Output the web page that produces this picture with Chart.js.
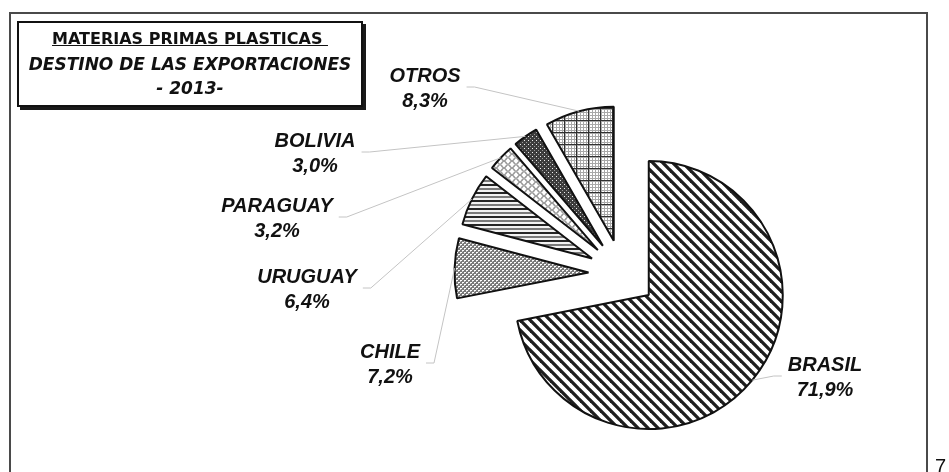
<!DOCTYPE html>
<html>
<head>
<meta charset="utf-8">
<script src="https://cdn.jsdelivr.net/npm/chart.js@4/dist/chart.umd.min.js"></script>
<style>
  html, body { margin:0; padding:0; background:#fff; width:949px; height:472px; overflow:hidden; }
  body { position:relative; }
  #frame { position:absolute; left:9px; top:12px; width:915px; height:520px; border:2px solid #4a4a4a; }
  #chart { position:absolute; left:0; top:0; }
  #tbox { position:absolute; left:17px; top:21px; width:346px; height:86px; box-sizing:border-box;
          border:2px solid #111; box-shadow:3px 3px 0 #1a1a1a; background:#fff; text-align:center;
          font-family:"DejaVu Sans", sans-serif; font-weight:bold; font-size:17px; line-height:24.5px;
          color:#111; padding-top:4px; }
  #tbox .l1 { font-size:16px; text-decoration:underline; white-space:pre; }
  #tbox .it { font-style:italic; }
  #pg { position:absolute; left:935px; top:456px; font:20px/20px "Liberation Sans", sans-serif; color:#111; }
</style>
</head>
<body>
<div id="frame"></div>
<canvas id="chart" width="949" height="472"></canvas>
<div id="tbox">
  <div class="l1">MATERIAS PRIMAS PLASTICAS </div>
  <div class="it">DESTINO DE LAS EXPORTACIONES</div>
  <div class="it">- 2013-</div>
</div>
<div id="pg">7</div>
<script>
// ---- data ----
const categories = ['BRASIL', 'CHILE', 'URUGUAY', 'PARAGUAY', 'BOLIVIA', 'OTROS'];
const shares = [71.9, 7.2, 6.4, 3.2, 3.0, 8.3];

// ---- patterns ----
const canvas = document.getElementById('chart');
const mainCtx = canvas.getContext('2d');
function makePattern(w, h, draw) {
  const t = document.createElement('canvas');
  t.width = w; t.height = h;
  const c = t.getContext('2d');
  draw(c, w, h);
  return mainCtx.createPattern(t, 'repeat');
}
const patBrasil = makePattern(10, 10, (c) => {
  c.fillStyle = '#fff'; c.fillRect(0, 0, 10, 10);
  c.strokeStyle = '#1e1e1e'; c.lineWidth = 3.3;
  for (const k of [-10, 0, 10]) { c.beginPath(); c.moveTo(k - 2, -2); c.lineTo(k + 12, 12); c.stroke(); }
});
const patChile = makePattern(4, 4, (c) => {
  c.fillStyle = '#7a7a7a'; c.fillRect(0, 0, 4, 4);
  c.fillStyle = '#fff'; c.fillRect(0, 0, 2, 1); c.fillRect(2, 2, 2, 1);
  c.fillStyle = '#c8c8c8'; c.fillRect(0, 1, 1, 1); c.fillRect(2, 3, 1, 1);
});
const patUruguay = makePattern(4, 8, (c) => {
  c.fillStyle = '#f2f2f2'; c.fillRect(0, 0, 4, 8);
  c.fillStyle = '#262626'; c.fillRect(0, 0, 4, 2);
  c.fillStyle = '#7a7a7a'; c.fillRect(0, 4, 4, 2);
});
const patParaguay = makePattern(8, 7, (c) => {
  c.fillStyle = '#fff'; c.fillRect(0, 0, 8, 7);
  c.strokeStyle = '#9a9a9a'; c.lineWidth = 1;
  for (const [x, y] of [[0, 3.5], [8, 3.5], [4, 0], [4, 7]]) {
    c.beginPath(); c.arc(x, y, 3.1, 0, Math.PI * 2); c.stroke();
  }
});
const patBolivia = makePattern(4, 4, (c) => {
  c.fillStyle = '#3c3c3c'; c.fillRect(0, 0, 4, 4);
  c.fillStyle = '#f0f0f0'; c.fillRect(0, 0, 1, 1);
  c.fillStyle = '#9a9a9a'; c.fillRect(2, 2, 1, 1);
});
const patOtros = makePattern(12, 12, (c) => {
  c.fillStyle = '#fff'; c.fillRect(0, 0, 12, 12);
  c.fillStyle = '#a8a8a8';
  for (let i = 0; i < 4; i++) { c.fillRect(i * 3 + 1, 0, 1, 12); c.fillRect(0, i * 3 + 1, 12, 1); }
  c.fillStyle = '#303030'; c.fillRect(0, 0, 1, 12); c.fillRect(0, 0, 12, 1);
});
const fills = [patBrasil, patChile, patUruguay, patParaguay, patBolivia, patOtros];

// ---- plugins ----
const explodePlugin = {
  id: 'explode',
  afterDatasetUpdate(chart, args, opts) {
    const meta = chart.getDatasetMeta(args.index);
    meta.data.forEach(arc => {
      const mid = (arc.startAngle + arc.endAngle) / 2;
      arc.x += opts.distance * Math.cos(mid);
      arc.y += opts.distance * Math.sin(mid);
    });
  }
};

const labelPlugin = {
  id: 'sliceLabels',
  afterDatasetsDraw(chart, args, opts) {
    const ctx = chart.ctx;
    const meta = chart.getDatasetMeta(0);
    const values = chart.data.datasets[0].data;
    ctx.save();
    ctx.font = opts.font;
    meta.data.forEach((arc, i) => {
      const p = opts.positions[i];
      const mid = (arc.startAngle + arc.endAngle) / 2;
      const ax = arc.x + arc.outerRadius * Math.cos(mid);
      const ay = arc.y + arc.outerRadius * Math.sin(mid);
      const l1 = chart.data.labels[i];
      const l2 = values[i].toFixed(1).replace('.', ',') + '%';
      const w = Math.max(ctx.measureText(l1).width, ctx.measureText(l2).width);
      const midY = p.y + opts.lineGap / 2;
      const side = ax > p.x ? 1 : -1;
      const tail = p.x + side * (w / 2 + opts.gap);
      const elbow = tail + side * opts.tailLen;
      ctx.strokeStyle = opts.leaderColor;
      ctx.lineWidth = 1;
      ctx.beginPath();
      ctx.moveTo(tail, midY);
      ctx.lineTo(elbow, midY);
      ctx.lineTo(ax, ay);
      ctx.stroke();
      ctx.fillStyle = opts.color;
      ctx.textAlign = 'center';
      ctx.textBaseline = 'alphabetic';
      ctx.fillText(l1, p.x, p.y + opts.capHalf);
      ctx.fillText(l2, p.x, p.y + opts.lineGap + opts.capHalf);
    });
    ctx.restore();
  }
};

new Chart(canvas, {
  type: 'pie',
  data: {
    labels: categories,
    datasets: [{
      data: shares,
      backgroundColor: fills,
      borderColor: '#111',
      borderWidth: 2
    }]
  },
  options: {
    responsive: false,
    animation: false,
    events: [],
    radius: 134,
    layout: { padding: { left: 296, top: 75, right: 0, bottom: 0 } },
    plugins: {
      legend: { display: false },
      tooltip: { enabled: false },
      title: { display: false },
      explode: { distance: 34 },
      sliceLabels: {
        font: 'italic bold 20px "Liberation Sans", Arial, sans-serif',
        color: '#111',
        leaderColor: '#c4c4c4',
        lineGap: 25,
        capHalf: 7.2,
        gap: 6,
        tailLen: 8,
        positions: [
          { x: 825, y: 363.5 },
          { x: 390, y: 350.5 },
          { x: 307, y: 275.5 },
          { x: 277, y: 204.5 },
          { x: 315, y: 139.5 },
          { x: 425, y: 74.5 }
        ]
      }
    }
  },
  plugins: [explodePlugin, labelPlugin]
});
</script>
</body>
</html>
